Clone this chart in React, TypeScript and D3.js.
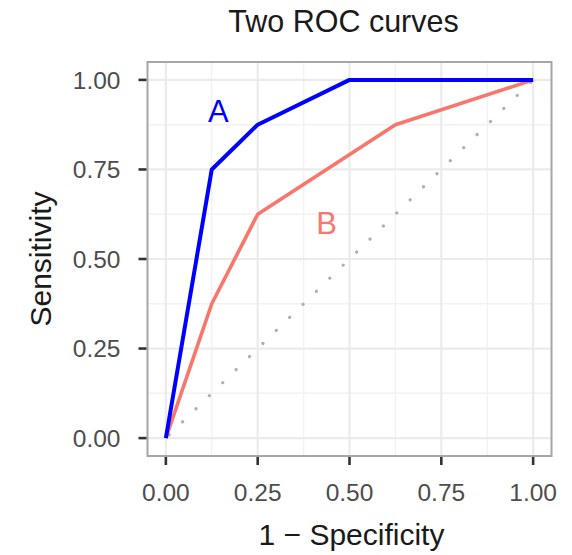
import React from "react";
import * as d3 from "d3";

const fprA = [0, 0.125, 0.25, 0.5, 1];
const tprA = [0, 0.75, 0.875, 1, 1];
const fprB = [0, 0.125, 0.25, 0.625, 1];
const tprB = [0, 0.375, 0.625, 0.875, 1];
const majorBreaks = [0, 0.25, 0.5, 0.75, 1];
const minorBreaks = [0.125, 0.375, 0.625, 0.875];
const tickLabels = ["0.00", "0.25", "0.50", "0.75", "1.00"];
const labelNames = ["A", "B"];
const labelX = [0.143, 0.4375];
const labelY = [0.915, 0.602];
const title = "Two ROC curves";
const xTitle = "1 \u2212 Specificity";
const yTitle = "Sensitivity";

const W = 572, H = 555;
const P = { left: 147.5, right: 551.5, top: 62, bottom: 456 };
const FONT = "'Liberation Sans', Arial, Helvetica, sans-serif";
const BLUE = "#0000FF";
const RED = "#F9766C";

export default function App() {
  const x = d3.scaleLinear().domain([-0.05, 1.05]).range([P.left, P.right]);
  const y = d3.scaleLinear().domain([-0.05, 1.05]).range([P.bottom, P.top]);
  const line = d3.line<[number, number]>().x((d) => x(d[0])).y((d) => y(d[1]));
  const ptsA: [number, number][] = fprA.map((v, i) => [v, tprA[i]]);
  const ptsB: [number, number][] = fprB.map((v, i) => [v, tprB[i]]);
  const diag: [number, number][] = [[0, 0], [1, 1]];
  const colors = [BLUE, RED];

  return (
    <svg
      width={W}
      height={H}
      style={{ position: "absolute", left: 0, top: 0, display: "block", background: "#fff" }}
      fontFamily={FONT}
    >
      <rect x={0} y={0} width={W} height={H} fill="#fff" />
      {minorBreaks.map((b) => (
        <g key={"mn" + b}>
          <line x1={x(b)} x2={x(b)} y1={P.top} y2={P.bottom} stroke="#f2f2f2" strokeWidth={1.4} />
          <line x1={P.left} x2={P.right} y1={y(b)} y2={y(b)} stroke="#f2f2f2" strokeWidth={1.4} />
        </g>
      ))}
      {majorBreaks.map((b) => (
        <g key={"mj" + b}>
          <line x1={x(b)} x2={x(b)} y1={P.top} y2={P.bottom} stroke="#ebebeb" strokeWidth={2.2} />
          <line x1={P.left} x2={P.right} y1={y(b)} y2={y(b)} stroke="#ebebeb" strokeWidth={2.2} />
        </g>
      ))}
      <path
        d={line(diag) || ""}
        fill="none"
        stroke="#b0b0b0"
        strokeWidth={3.2}
        strokeLinecap="round"
        strokeDasharray="0.1 18.6"
        strokeDashoffset={14.1}
      />
      <path d={line(ptsB) || ""} fill="none" stroke={RED} strokeWidth={3.6} strokeLinejoin="round" strokeLinecap="butt" />
      <path d={line(ptsA) || ""} fill="none" stroke={BLUE} strokeWidth={4} strokeLinejoin="round" strokeLinecap="butt" />
      {labelNames.map((n, i) => (
        <text
          key={n}
          x={x(labelX[i])}
          y={y(labelY[i])}
          dy="0.36em"
          textAnchor="middle"
          fontSize={31}
          fill={colors[i]}
        >
          {n}
        </text>
      ))}
      <rect
        x={P.left}
        y={P.top}
        width={P.right - P.left}
        height={P.bottom - P.top}
        fill="none"
        stroke="#a6a6a6"
        strokeWidth={2}
      />
      {majorBreaks.map((b, i) => (
        <g key={"t" + b}>
          <line x1={x(b)} x2={x(b)} y1={P.bottom + 1} y2={P.bottom + 9} stroke="#333" strokeWidth={2.6} />
          <text x={x(b)} y={500.5} textAnchor="middle" fontSize={24.5} fill="#4d4d4d">
            {tickLabels[i]}
          </text>
          <line x1={P.left - 9} x2={P.left - 1} y1={y(b)} y2={y(b)} stroke="#333" strokeWidth={2.6} />
          <text x={120.5} y={y(b)} dy="0.36em" textAnchor="end" fontSize={24.5} fill="#4d4d4d">
            {tickLabels[i]}
          </text>
        </g>
      ))}
      <text x={(P.left + P.right) / 2 - 6} y={31.5} textAnchor="middle" fontSize={30.5} fill="#1a1a1a">
        {title}
      </text>
      <text x={(P.left + P.right) / 2 + 2} y={545} textAnchor="middle" fontSize={30} fill="#1a1a1a">
        {xTitle}
      </text>
      <text
        transform={`translate(50.5, ${(P.top + P.bottom) / 2}) rotate(-90)`}
        textAnchor="middle"
        fontSize={30}
        fill="#1a1a1a"
      >
        {yTitle}
      </text>
    </svg>
  );
}
